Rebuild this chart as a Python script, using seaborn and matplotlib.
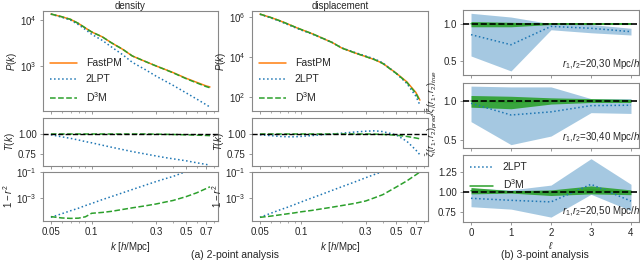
import numpy as np
import matplotlib
matplotlib.use('Agg')
import matplotlib.pyplot as plt
from matplotlib.ticker import FixedLocator, NullFormatter, FormatStrFormatter
import seaborn as sns

# ---------------- data ---------------- #
k = [0.05, 0.06, 0.07, 0.08, 0.09, 0.10, 0.12, 0.14, 0.17, 0.20,
     0.25, 0.30, 0.35, 0.40, 0.50, 0.60, 0.70, 0.75]

# density
dens_pk_fastpm = [13500, 11800, 10300, 8400, 6700, 5500, 4300, 3200, 2300, 1650,
                  1250, 1000, 840, 720, 540, 440, 370, 350]
dens_pk_2lpt = [13400, 11500, 9900, 7900, 6200, 4900, 3600, 2600, 1750, 1200,
                830, 600, 470, 380, 260, 190, 145, 128]
dens_pk_d3m = [13500, 11800, 10300, 8400, 6700, 5500, 4300, 3200, 2300, 1650,
               1250, 1000, 835, 712, 530, 428, 358, 336]
dens_t_2lpt = [0.99, 0.965, 0.945, 0.925, 0.905, 0.89, 0.86, 0.835, 0.805, 0.78,
               0.75, 0.725, 0.705, 0.69, 0.665, 0.64, 0.62, 0.61]
dens_t_d3m = [1.0, 1.0, 1.0, 1.0, 1.0, 1.0, 1.0, 1.0, 1.0, 1.0,
              1.0, 0.998, 0.996, 0.994, 0.99, 0.986, 0.982, 0.98]
dens_r_2lpt = [2.9e-5, 5.5e-5, 9.5e-5, 1.5e-4, 2.4e-4, 3.5e-4, 7.0e-4, 1.2e-3, 2.4e-3, 4.3e-3,
               9.5e-3, 1.8e-2, 3.0e-2, 4.5e-2, 0.11, 0.2, 0.3, 0.37]
dens_r_d3m = [3.3e-5, 2.6e-5, 2.4e-5, 2.5e-5, 3.2e-5, 6.0e-5, 7.0e-5, 8.5e-5, 1.2e-4, 1.6e-4,
              2.3e-4, 3.2e-4, 4.5e-4, 6.0e-4, 1.2e-3, 2.4e-3, 5.0e-3, 7.0e-3]

# displacement
disp_pk_fastpm = [1.4e6, 9.5e5, 6.5e5, 4.5e5, 3.2e5, 2.4e5, 1.5e5, 9.5e4, 5.3e4, 2.8e4,
                  1.6e4, 1.05e4, 7.3e3, 4.8e3, 1.6e3, 580, 170, 70]
disp_pk_2lpt = [1.37e6, 9.1e5, 6.1e5, 4.2e5, 3.0e5, 2.25e5, 1.44e5, 9.3e4, 5.3e4, 2.85e4,
                1.68e4, 1.12e4, 7.9e3, 5.1e3, 1.57e3, 480, 110, 40]
disp_pk_d3m = [1.4e6, 9.5e5, 6.5e5, 4.5e5, 3.2e5, 2.4e5, 1.5e5, 9.5e4, 5.3e4, 2.8e4,
               1.6e4, 1.05e4, 7.3e3, 4.75e3, 1.55e3, 545, 153, 62]
disp_t_2lpt = [0.99, 0.98, 0.97, 0.965, 0.965, 0.97, 0.98, 0.99, 1.0, 1.01,
               1.025, 1.035, 1.04, 1.03, 0.99, 0.91, 0.80, 0.74]
disp_t_d3m = [1.0, 1.0, 1.0, 1.0, 1.0, 1.0, 1.0, 1.0, 1.0, 1.0,
              1.0, 1.0, 0.998, 0.995, 0.985, 0.97, 0.95, 0.94]
disp_r_2lpt = [2.9e-5, 6.0e-5, 1.1e-4, 1.8e-4, 2.9e-4, 4.5e-4, 9.3e-4, 1.7e-3, 3.7e-3, 7.1e-3,
               1.7e-2, 3.6e-2, 6.6e-2, 0.11, 0.27, 0.5, 0.9, 0.99]
disp_r_d3m = [2.9e-5, 3.6e-5, 4.5e-5, 5.5e-5, 6.5e-5, 7.8e-5, 1.0e-4, 1.3e-4, 1.8e-4, 2.4e-4,
              3.6e-4, 5.5e-4, 1.0e-3, 1.7e-3, 6.5e-3, 2.0e-2, 6.0e-2, 0.1]

# 3-point ratios
ell = [0, 1, 2, 3, 4]
panel_text = ['$r_1$,$r_2$=20,30 Mpc/$h$', '$r_1$,$r_2$=30,40 Mpc/$h$', '$r_1$,$r_2$=20,50 Mpc/$h$']
lpt_mean = [[0.855, 0.72, 0.965, 0.94, 0.895],
            [0.97, 0.82, 0.86, 0.94, 0.945],
            [0.925, 0.90, 0.88, 1.10, 0.89]]
lpt_lo = [[0.57, 0.37, 0.92, 0.88, 0.85],
          [0.735, 0.44, 0.55, 0.85, 0.84],
          [0.82, 0.79, 0.69, 0.975, 0.77]]
lpt_hi = [[1.14, 1.09, 1.0, 0.99, 0.94],
          [1.19, 1.18, 1.18, 1.03, 1.03],
          [1.05, 1.03, 1.09, 1.42, 1.10]]
d3m_mean = [[1.0, 0.99, 1.0, 1.0, 1.0],
            [1.0, 0.98, 1.0, 1.0, 1.0],
            [1.02, 1.005, 0.995, 1.03, 1.0]]
d3m_lo = [[0.96, 0.96, 0.99, 0.99, 0.99],
          [0.92, 0.90, 0.96, 0.98, 0.98],
          [0.98, 0.99, 0.96, 0.98, 0.97]]
d3m_hi = [[1.03, 1.02, 1.01, 1.01, 1.01],
          [1.07, 1.06, 1.04, 1.03, 1.02],
          [1.06, 1.02, 1.03, 1.08, 1.03]]
ratio_ylim = [(0.316, 1.184), (0.397, 1.23), (0.629, 1.466)]
ratio_ticks = [[0.5, 1.0], [0.5, 1.0], [0.75, 1.0, 1.25]]

# ---------------- style ---------------- #
sns.set_style('ticks')
plt.rcParams['font.family'] = ['Liberation Sans', 'DejaVu Sans']
plt.rcParams['mathtext.fontset'] = 'custom'
plt.rcParams['mathtext.rm'] = 'Liberation Sans'
plt.rcParams['mathtext.it'] = 'Liberation Sans:italic'
plt.rcParams['mathtext.bf'] = 'Liberation Sans:bold'

c_fast = '#ff7f0e'
c_lpt = '#1f77b4'
c_d3m = '#2ca02c'
spine_c = '#888888'

fig = plt.figure(figsize=(6.4, 2.76), dpi=100)


def px_axes(x0, y0, x1, y1):
    ax = fig.add_axes([x0 / 640, 1 - y1 / 276, (x1 - x0) / 640, (y1 - y0) / 276])
    for s in ax.spines.values():
        s.set_color(spine_c)
        s.set_linewidth(0.8)
    ax.tick_params(labelsize=7, length=2.5, width=0.6, color=spine_c, pad=2)
    ax.tick_params(which='minor', length=1.5, width=0.5, color=spine_c)
    return ax


def setup_k_axis(ax, show_labels):
    ax.set_xscale('log')
    ax.set_xlim(0.0437, 0.86)
    ax.xaxis.set_major_locator(FixedLocator([0.05, 0.1, 0.3, 0.5, 0.7]))
    ax.xaxis.set_minor_formatter(NullFormatter())
    if show_labels:
        ax.xaxis.set_major_formatter(FormatStrFormatter('%g'))
        ax.set_xlabel('$k$ [$h$/Mpc]', fontsize=7, labelpad=2)
    else:
        ax.xaxis.set_major_formatter(NullFormatter())


columns = [
    ('density', 43, 218, dens_pk_fastpm, dens_pk_2lpt, dens_pk_d3m, dens_t_2lpt, dens_t_d3m,
     dens_r_2lpt, dens_r_d3m, (105, 1.57e4), [1e3, 1e4]),
    ('displacement', 252, 428, disp_pk_fastpm, disp_pk_2lpt, disp_pk_d3m, disp_t_2lpt, disp_t_d3m,
     disp_r_2lpt, disp_r_d3m, (20, 2.0e6), [1e2, 1e4, 1e6]),
]

for title, x0, x1, pk_f, pk_l, pk_d, t_l, t_d, r_l, r_d, pk_lim, pk_ticks in columns:
    # power spectrum
    ax = px_axes(x0, 11, x1, 111)
    sns.lineplot(x=k, y=pk_f, ax=ax, color=c_fast, lw=1.1, label='FastPM')
    sns.lineplot(x=k, y=pk_l, ax=ax, color=c_lpt, lw=1.1, ls=':', label='2LPT')
    sns.lineplot(x=k, y=pk_d, ax=ax, color=c_d3m, lw=1.1, ls='--', label='D$^3$M')
    ax.set_yscale('log')
    ax.set_ylim(*pk_lim)
    ax.yaxis.set_major_locator(FixedLocator(pk_ticks))
    ax.yaxis.set_minor_formatter(NullFormatter())
    ax.yaxis.set_minor_locator(FixedLocator([]))
    setup_k_axis(ax, False)
    ax.set_ylabel('$P(k)$', fontsize=7, labelpad=1)
    ax.set_title(title, fontsize=7, pad=1)
    ax.legend(loc='lower left', frameon=False, fontsize=7.5, handlelength=2.6,
              labelspacing=0.55, borderaxespad=0.3, handletextpad=0.8)

    # transfer function
    ax = px_axes(x0, 118, x1, 166)
    sns.lineplot(x=k, y=t_l, ax=ax, color=c_lpt, lw=1.1, ls=':')
    sns.lineplot(x=k, y=t_d, ax=ax, color=c_d3m, lw=1.1, ls='--')
    ax.axhline(1.0, color='k', ls='--', lw=1.0, zorder=5)
    ax.set_ylim(0.6, 1.2)
    ax.set_yticks([0.75, 1.0])
    ax.yaxis.set_major_formatter(FormatStrFormatter('%.2f'))
    setup_k_axis(ax, False)
    ax.set_ylabel('$T(k)$', fontsize=7, labelpad=1)

    # correlation
    ax = px_axes(x0, 172, x1, 221)
    sns.lineplot(x=k, y=r_l, ax=ax, color=c_lpt, lw=1.1, ls=':')
    sns.lineplot(x=k, y=r_d, ax=ax, color=c_d3m, lw=1.1, ls='--')
    ax.set_yscale('log')
    ax.set_ylim(1.5e-5, 0.1)
    ax.yaxis.set_major_locator(FixedLocator([1e-5, 1e-3, 1e-1]))
    ax.yaxis.set_minor_locator(FixedLocator([]))
    setup_k_axis(ax, True)
    ax.set_ylabel('$1-r^2$', fontsize=7, labelpad=1)

# ---------------- 3-point panels ---------------- #
rows = [(10, 75), (83, 148), (155, 222)]
for i, (y0, y1) in enumerate(rows):
    ax = px_axes(463, y0, 639, y1)
    ax.fill_between(ell, lpt_lo[i], lpt_hi[i], color=c_lpt, alpha=0.4, lw=0)
    ax.fill_between(ell, d3m_lo[i], d3m_hi[i], color=c_d3m, alpha=0.9, lw=0)
    sns.lineplot(x=ell, y=lpt_mean[i], ax=ax, color=c_lpt, lw=1.1, ls=':',
                 label='2LPT' if i == 2 else None)
    sns.lineplot(x=ell, y=d3m_mean[i], ax=ax, color=c_d3m, lw=1.1,
                 label='D$^3$M' if i == 2 else None)
    ax.axhline(1.0, color='k', ls='--', lw=1.2, zorder=5)
    ax.set_xlim(-0.2, 4.2)
    ax.set_ylim(*ratio_ylim[i])
    ax.set_yticks(ratio_ticks[i])
    ax.set_xticks(ell)
    if i == 2:
        ax.yaxis.set_major_formatter(FormatStrFormatter('%.2f'))
        ax.set_xlabel(r'$\ell$', fontsize=7, labelpad=1)
        ax.legend(loc='upper left', frameon=False, fontsize=7.5, handlelength=2.2,
                  labelspacing=0.5, borderaxespad=0.3, handletextpad=0.9)
    else:
        ax.yaxis.set_major_formatter(FormatStrFormatter('%.1f'))
        ax.set_xticklabels([])
        if ax.get_legend():
            ax.get_legend().remove()
    ax.text(0.565, 0.06, panel_text[i], transform=ax.transAxes, fontsize=7, ha='left', va='bottom')

fig.text(432 / 640, 1 - 113 / 276,
         r'$\bar{\zeta}_l(r_1,r_2)_{pred}/\bar{\zeta}_l(r_1,r_2)_{true}$',
         rotation=90, ha='center', va='center', fontsize=6.5)

fig.text(235 / 640, 1 - 255 / 276, '(a) 2-point analysis', ha='center', va='center', fontsize=7.5)
fig.text(545 / 640, 1 - 255 / 276, '(b) 3-point analysis', ha='center', va='center', fontsize=7.5)

fig.savefig('out.png', dpi=100)
